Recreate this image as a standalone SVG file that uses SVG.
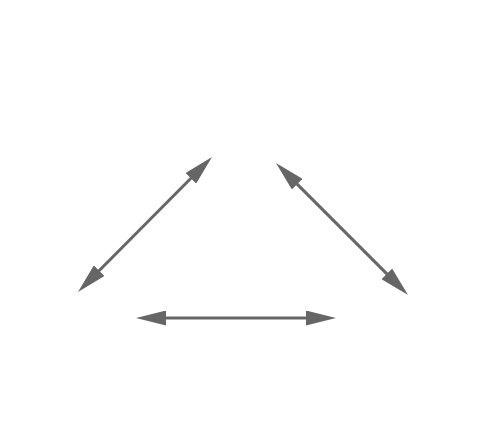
<svg xmlns="http://www.w3.org/2000/svg" width="488" height="444" viewBox="0 0 488 444">
<style>
.edge{stroke:#666666;stroke-width:3;fill:none;marker-start:url(#ah);marker-end:url(#ah)}
</style>
<defs>
<marker id="ah" markerUnits="userSpaceOnUse" markerWidth="30" markerHeight="15" viewBox="0 0 30 15" refX="10" refY="7.5" orient="auto-start-reverse">
<path d="M0,0 L30,7.5 L0,15 Z" fill="#666666"/>
</marker>
</defs>
<rect width="488" height="444" fill="#ffffff"/>
<g id="connectors">
<line class="edge" x1="92.1" y1="277.8" x2="197.9" y2="171.2"/>
<line class="edge" x1="290.1" y1="177.1" x2="393.9" y2="280.9"/>
<line class="edge" x1="156" y1="318" x2="316" y2="318"/>
</g>
</svg>
